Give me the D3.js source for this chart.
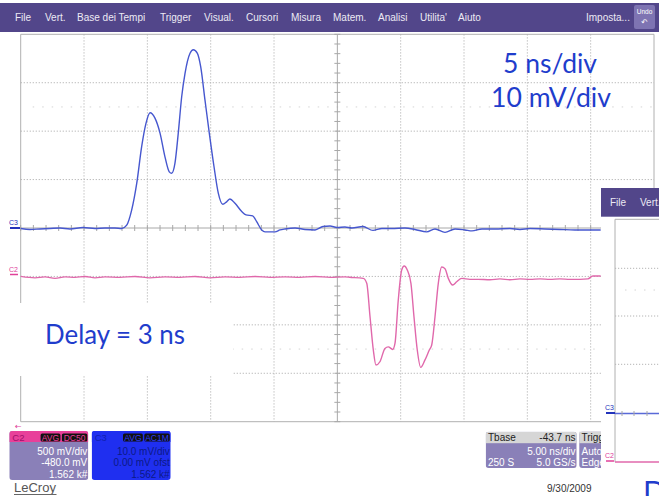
<!DOCTYPE html>
<html>
<head>
<meta charset="utf-8">
<script src="https://cdn.jsdelivr.net/npm/d3@7"></script>
<style>
html, body { margin: 0; padding: 0; background: #fff; }
svg { display: block; }
</style>
</head>
<body>
<script>
// ---- data read off the screen capture ------------------------------
// time in ns from the left edge of the graticule (5 ns/div, 10 div)
const divTimes = [0, 5, 10, 15, 20, 25, 30, 35, 40, 45, 50];
const divLevels = [-4, -3, -2, -1, 0, 1, 2, 3, 4];

// C3 (blue), mV, 10 mV/div
const c3Time = [0, 0.73, 1.52, 2.31, 3.1, 3.89, 4.92, 5.87, 6.65, 7.44, 7.97,
  8.37, 8.76, 9.16, 9.55, 9.89, 10.21, 10.6, 11.0, 11.39, 11.73, 11.92, 12.18,
  12.44, 12.71, 12.97, 13.37, 13.63, 13.94, 14.21, 14.55, 14.89, 15.26, 15.6,
  15.95, 16.26, 16.52, 16.92, 17.45, 17.79, 18.32, 18.63, 19.03, 19.29, 20.08,
  20.47, 20.87, 21.66, 22.45, 23.24, 23.87, 24.42, 24.97, 25.6, 26.15, 27.02,
  27.81, 28.52, 29.3, 30.34, 31.13, 32.05, 32.71, 33.5, 34.29, 35.08, 35.63,
  36.42, 37.45, 38.63, 39.42, 40.21, 41.39, 42.57, 43.76, 44.94, 45.79];
const c3mV = [-0.1, -0.3, -0.2, -0.1, 0.0, -0.2, 0.1, -0.1, 0.0, 0.0, -0.1,
  0.6, 3.7, 9.2, 16.8, 21.6, 23.8, 22.7, 19.6, 14.7, 11.6, 11.3, 13.4,
  19.6, 27.1, 31.9, 36.1, 36.8, 36.1, 33.3, 26.4, 19.6, 12.7, 7.2,
  4.9, 5.4, 6.0, 5.1, 3.4, 2.7, 2.5, 1.3, -0.4, -0.8, -0.8,
  -0.4, -0.2, 0.0, -0.3, -0.4, 0.3, 0.4, 0.1, 0.2, 0.0, 0.3,
  -0.5, -0.1, -0.1, 0.0, -0.3, -0.8, -0.2, -0.9, -0.2, -0.4, -0.6,
  -0.2, -0.2, -0.1, -0.3, -0.1, -0.2, -0.3, -0.4, -0.4, -0.4];

// C2 (pink), mV, 500 mV/div
const c2Time = [0, 1.13, 1.92, 2.71, 3.5, 4.29, 5.08, 5.87, 6.65, 7.84, 9.02,
  10.2, 11.39, 12.58, 13.76, 14.94, 16.13, 17.31, 18.5, 19.68, 20.87, 22.05,
  23.24, 24.42, 25.6, 25.98, 27.05, 27.32, 27.58, 27.84, 28.05, 28.36, 28.76,
  29.02, 29.37, 29.55, 29.81, 30.08, 30.28, 30.52, 30.81, 31.05, 31.31, 31.58,
  31.92, 32.26, 32.45, 32.71, 32.97, 33.24, 33.5, 33.76, 34.1, 34.42, 34.82,
  35.47, 36.1, 37.05, 37.84, 38.63, 39.42, 40.21, 41.0, 41.79, 42.57, 43.37,
  44.15, 44.78, 45.17, 45.79];
const c2mV = [0, -15, -5, -20, -5, -10, 0, -15, -5, -10, 0,
  -15, -5, -10, 0, -15, -5, -10, 0, -10, -5, -10,
  0, -10, -5, -9, -20, -71, -416, -760, -915, -881, -743,
  -727, -754, -692, -244, 66, 107, 66, -71, -416, -760, -939,
  -862, -760, -708, -416, -71, 97, 80, -20, -89, -55, -20,
  -30, -30, -35, -25, -35, -25, -30, -25, -30, -25, -30,
  -30, -25, 5, 5];
const C2_OFFSET = -500;

const menuItems = ["File", "Vert.", "Base dei Tempi", "Trigger", "Visual.", "Cursori",
  "Misura", "Matem.", "Analisi", "Utilita'", "Aiuto"];
const c2Info = ["500 mV/div", "-480.0 mV", "1.562 k#"];
const c3Info = ["10.0 mV/div", "0.00 mV ofst", "1.562 k#"];
const tbaseInfo = ["Tbase", "-43.7 ns", "5.00 ns/div", "250 S", "5.0 GS/s"];
const trigInfo = ["Trigger", "Auto", "Edge"];

// ---- layout ------------------------------------------------------
const WIDTH = 659, HEIGHT = 496;
const menuX = [15, 45, 77, 160, 204, 246, 291, 333, 378, 420, 458];
const G = { left: 20.7, right: 654, top: 34.3, bottom: 421.7 };
const INSET = { x: 601, y: 188 };
const UI_FONT = "'Liberation Sans', Arial, sans-serif";
const SLIDE_FONT = "Lato, 'Open Sans', sans-serif";
const SLIDE_BLUE = "#1f3dcc";

const svg = d3.select("body").append("svg")
  .attr("width", WIDTH).attr("height", HEIGHT)
  .attr("xmlns", "http://www.w3.org/2000/svg");

const x = d3.scaleLinear().domain([0, 50]).range([G.left, G.right]);
const yDiv = d3.scaleLinear().domain([-4, 4]).range([G.bottom, G.top]);
const y3 = d3.scaleLinear().domain([-40, 40]).range([G.bottom, G.top]);
const y2 = d3.scaleLinear().domain([-2000, 2000]).range([G.bottom, G.top]);

// ---- menu bar ----------------------------------------------------
svg.append("rect").attr("x", 0).attr("y", 3).attr("width", WIDTH).attr("height", 29)
  .attr("fill", "#52468a");
svg.append("g").selectAll("text").data(menuItems).join("text")
  .attr("x", (d, i) => menuX[i]).attr("y", 20.5)
  .attr("font-family", UI_FONT).attr("font-size", 10).attr("fill", "#eceaf4")
  .text(d => d);
svg.append("text").attr("x", 586).attr("y", 20.5)
  .attr("font-family", UI_FONT).attr("font-size", 10).attr("fill", "#eceaf4")
  .text("Imposta...");
svg.append("rect").attr("x", 634).attr("y", 5).attr("width", 21).attr("height", 24)
  .attr("rx", 2).attr("fill", "#7e74b2");
svg.append("text").attr("x", 644.5).attr("y", 14).attr("text-anchor", "middle")
  .attr("font-family", UI_FONT).attr("font-size", 6.5).attr("fill", "#fff").text("Undo");
svg.append("text").attr("x", 644.5).attr("y", 25).attr("text-anchor", "middle")
  .attr("font-family", "DejaVu Sans").attr("font-size", 8).attr("fill", "#fff").text("↶");

// ---- graticule ---------------------------------------------------
const grid = svg.append("g");
const rightAt = yy => (yy < INSET.y ? G.right : INSET.x);

grid.selectAll(".vg").data(divTimes.filter(t => t > 0 && t < 50 && t !== 25)).join("line")
  .attr("x1", d => x(d)).attr("x2", d => x(d))
  .attr("y1", G.top).attr("y2", G.bottom)
  .attr("stroke", "#b4b4b4").attr("stroke-dasharray", "1.2,1.8");
grid.selectAll(".hg").data(divLevels.filter(l => l > -4 && l < 4 && l !== 0)).join("line")
  .attr("x1", G.left).attr("x2", d => rightAt(yDiv(d)))
  .attr("y1", d => yDiv(d)).attr("y2", d => yDiv(d))
  .attr("stroke", "#b4b4b4").attr("stroke-dasharray", "1.2,1.8");
// faint half-division dot rows
grid.selectAll(".hd").data([2.5, -2.5]).join("line")
  .attr("x1", G.left + 12).attr("x2", d => rightAt(yDiv(d)))
  .attr("y1", d => yDiv(d)).attr("y2", d => yDiv(d))
  .attr("stroke", "#d4d4d4").attr("stroke-dasharray", "1.5,8");

// frame
grid.append("path")
  .attr("d", `M${INSET.x},${G.bottom}H${G.left}V${G.top}H${G.right}V${INSET.y}`)
  .attr("fill", "none").attr("stroke", "#b0b0b0");

// centre axes with minor ticks
grid.append("line").attr("x1", x(25)).attr("x2", x(25)).attr("y1", G.top).attr("y2", G.bottom)
  .attr("stroke", "#a8a8a8");
grid.append("line").attr("x1", G.left).attr("x2", INSET.x).attr("y1", yDiv(0)).attr("y2", yDiv(0))
  .attr("stroke", "#a8a8a8");
const minorY = d3.range(-4, 4.01, 0.2);
grid.selectAll(".ty").data(minorY).join("line")
  .attr("x1", x(25) - 3).attr("x2", x(25) + 3)
  .attr("y1", d => yDiv(d)).attr("y2", d => yDiv(d))
  .attr("stroke", "#a8a8a8");
const minorX = d3.range(0, 46, 1);
grid.selectAll(".tx").data(minorX).join("line")
  .attr("x1", d => x(d)).attr("x2", d => x(d))
  .attr("y1", yDiv(0) - 3).attr("y2", yDiv(0) + 3)
  .attr("stroke", "#a8a8a8");

// white box pasted behind the "Delay" label
svg.append("rect").attr("x", 0).attr("y", 303).attr("width", 233).attr("height", 73)
  .attr("fill", "#fff");

// ---- traces ------------------------------------------------------
const c3Line = d3.line().curve(d3.curveMonotoneX)
  .x((d, i) => x(c3Time[i])).y(d => y3(d));
const c2Line = d3.line().curve(d3.curveMonotoneX)
  .x((d, i) => x(c2Time[i])).y(d => y2(d + C2_OFFSET));

svg.append("path").attr("d", c2Line(c2mV)).attr("fill", "none")
  .attr("stroke", "#e068ab").attr("stroke-width", 1.4);
svg.append("path").attr("d", c3Line(c3mV)).attr("fill", "none")
  .attr("stroke", "#4657cf").attr("stroke-width", 1.4);

// channel markers
svg.append("text").attr("x", 9).attr("y", 224.5).attr("font-family", UI_FONT)
  .attr("font-size", 7).attr("fill", "#2233bb").text("C3");
svg.append("line").attr("x1", 10).attr("x2", 20).attr("y1", y3(0)).attr("y2", y3(0))
  .attr("stroke", "#2233bb").attr("stroke-width", 2);
svg.append("text").attr("x", 9).attr("y", 271.5).attr("font-family", UI_FONT)
  .attr("font-size", 7).attr("fill", "#e0409a").text("C2");
svg.append("line").attr("x1", 10).attr("x2", 18).attr("y1", 274.5).attr("y2", 274.5)
  .attr("stroke", "#e0409a").attr("stroke-width", 1.5);

// ---- slide annotations -------------------------------------------
svg.append("text").attr("x", 503).attr("y", 72.5).attr("font-family", SLIDE_FONT)
  .attr("font-size", 26).attr("fill", SLIDE_BLUE)
  .attr("textLength", 94).attr("lengthAdjust", "spacingAndGlyphs").text("5 ns/div");
svg.append("text").attr("x", 491).attr("y", 106.5).attr("font-family", SLIDE_FONT)
  .attr("font-size", 26).attr("fill", SLIDE_BLUE)
  .attr("textLength", 120).attr("lengthAdjust", "spacingAndGlyphs").text("10 mV/div");
svg.append("text").attr("x", 45).attr("y", 344).attr("font-family", SLIDE_FONT)
  .attr("font-size", 27).attr("fill", SLIDE_BLUE)
  .attr("textLength", 140).attr("lengthAdjust", "spacingAndGlyphs").text("Delay = 3 ns");

// ---- bottom status boxes -----------------------------------------
svg.append("text").attr("x", 15).attr("y", 429).attr("font-family", "DejaVu Sans")
  .attr("font-size", 8).attr("fill", "#e0409a").text("←");

function chanBox(x0, w, headFill, bodyFill, label, labelFill, badges, badgeFill, rows, rowFill, id) {
  const g = svg.append("g");
  g.append("clipPath").attr("id", id).append("rect")
    .attr("x", x0).attr("y", 431).attr("width", w).attr("height", 49).attr("rx", 3);
  const inner = g.append("g").attr("clip-path", `url(#${id})`);
  inner.append("rect").attr("x", x0).attr("y", 431).attr("width", w).attr("height", 49).attr("fill", bodyFill);
  inner.append("rect").attr("x", x0).attr("y", 431).attr("width", w).attr("height", 11).attr("fill", headFill);
  inner.append("text").attr("x", x0 + 3).attr("y", 440.5).attr("font-family", UI_FONT)
    .attr("font-size", 9.5).attr("fill", labelFill).text(label);
  let bx = x0 + w - 1;
  badges.slice().reverse().forEach(b => {
    const bw = b.length * 5.6 + 3;
    bx -= bw;
    inner.append("rect").attr("x", bx).attr("y", 433.5).attr("width", bw).attr("height", 8)
      .attr("rx", 1.5).attr("fill", "#111");
    inner.append("text").attr("x", bx + bw / 2).attr("y", 440.6).attr("text-anchor", "middle")
      .attr("font-family", UI_FONT).attr("font-size", 8.5).attr("fill", badgeFill).text(b);
    bx -= 1.5;
  });
  inner.selectAll(".row").data(rows).join("text")
    .attr("x", x0 + w - 1).attr("y", (d, i) => 454.5 + i * 11.8).attr("text-anchor", "end")
    .attr("font-family", UI_FONT).attr("font-size", 10).attr("fill", rowFill).text(d => d);
}
chanBox(9.3, 79, "#e8409a", "#8a80b8", "C2", "#a0106a", ["AVG", "DC50"], "#e8409a", c2Info, "#fff", "clipC2");
chanBox(91.7, 79, "#1f2ff0", "#1f2ff0", "C3", "#1020b0", ["AVG", "AC1M"], "#2a3cf5", c3Info, "#0c1a86", "clipC3");

// Tbase box
const tb = svg.append("g");
tb.append("clipPath").attr("id", "clipTb").append("rect")
  .attr("x", 485.7).attr("y", 431.7).attr("width", 91).attr("height", 36.3).attr("rx", 3);
const tbi = tb.append("g").attr("clip-path", "url(#clipTb)");
tbi.append("rect").attr("x", 485.7).attr("y", 431.7).attr("width", 91).attr("height", 36.3).attr("fill", "#8a80b8");
tbi.append("rect").attr("x", 485.7).attr("y", 431.7).attr("width", 91).attr("height", 11.5).attr("fill", "#d6d6d6");
const tbText = (t, xx, yy, anchor, fill) => tbi.append("text").attr("x", xx).attr("y", yy)
  .attr("text-anchor", anchor).attr("font-family", UI_FONT).attr("font-size", 10).attr("fill", fill).text(t);
tbText(tbaseInfo[0], 488, 441.3, "start", "#222");
tbText(tbaseInfo[1], 575.5, 441.3, "end", "#222");
tbText(tbaseInfo[2], 575.5, 455, "end", "#fff");
tbText(tbaseInfo[3], 488, 466, "start", "#fff");
tbText(tbaseInfo[4], 575.5, 466, "end", "#fff");

// trigger box (partly hidden by pasted picture)
svg.append("rect").attr("x", 579.3).attr("y", 431.7).attr("width", 40).attr("height", 36.3)
  .attr("rx", 3).attr("fill", "#8a80b8");
svg.append("rect").attr("x", 579.3).attr("y", 431.7).attr("width", 40).attr("height", 11.5)
  .attr("fill", "#d6d6d6");
svg.append("text").attr("x", 581.5).attr("y", 441.3).attr("font-family", UI_FONT)
  .attr("font-size", 10).attr("fill", "#222").text(trigInfo[0]);
svg.append("text").attr("x", 581.5).attr("y", 455).attr("font-family", UI_FONT)
  .attr("font-size", 10).attr("fill", "#fff").text(trigInfo[1]);
svg.append("text").attr("x", 581.5).attr("y", 466).attr("font-family", UI_FONT)
  .attr("font-size", 10).attr("fill", "#fff").text(trigInfo[2]);

// logo and date
svg.append("text").attr("x", 14).attr("y", 492).attr("font-family", UI_FONT)
  .attr("font-size", 13).attr("fill", "#555").text("LeCroy");
svg.append("line").attr("x1", 14).attr("x2", 56.5).attr("y1", 494.5).attr("y2", 494.5)
  .attr("stroke", "#666").attr("stroke-width", 1);
svg.append("text").attr("x", 547).attr("y", 492).attr("font-family", UI_FONT)
  .attr("font-size", 10).attr("fill", "#333").text("9/30/2009");

// ---- pasted second screen capture (right edge) -------------------
const ins = svg.append("g");
ins.append("rect").attr("x", INSET.x).attr("y", INSET.y).attr("width", WIDTH - INSET.x)
  .attr("height", 282).attr("fill", "#fff");
ins.append("rect").attr("x", INSET.x).attr("y", INSET.y).attr("width", WIDTH - INSET.x)
  .attr("height", 28.7).attr("fill", "#52468a");
ins.append("text").attr("x", 610).attr("y", 206).attr("font-family", UI_FONT)
  .attr("font-size", 10).attr("fill", "#eceaf4").text("File");
ins.append("text").attr("x", 640).attr("y", 206).attr("font-family", UI_FONT)
  .attr("font-size", 10).attr("fill", "#eceaf4").text("Vert.");
ins.append("path").attr("d", `M${WIDTH},219.3H615V462`).attr("fill", "none").attr("stroke", "#b0b0b0");
ins.selectAll(".ig").data([268.3, 316, 364.3]).join("line")
  .attr("x1", 615).attr("x2", WIDTH).attr("y1", d => d).attr("y2", d => d)
  .attr("stroke", "#b4b4b4").attr("stroke-dasharray", "1.2,1.8");
ins.append("line").attr("x1", 625).attr("x2", WIDTH).attr("y1", 290).attr("y2", 290)
  .attr("stroke", "#d4d4d4").attr("stroke-dasharray", "1.5,8");
ins.append("line").attr("x1", 615).attr("x2", WIDTH).attr("y1", 413.5).attr("y2", 413.5)
  .attr("stroke", "#5a6ad8").attr("stroke-width", 1.3);
ins.selectAll(".it").data([622, 634, 647]).join("line")
  .attr("x1", d => d).attr("x2", d => d).attr("y1", 411).attr("y2", 416)
  .attr("stroke", "#a8a8a8");
ins.append("line").attr("x1", 615).attr("x2", WIDTH).attr("y1", 462).attr("y2", 462)
  .attr("stroke", "#e068ab").attr("stroke-width", 1.3);
ins.append("text").attr("x", 605).attr("y", 409.5).attr("font-family", UI_FONT)
  .attr("font-size", 7).attr("fill", "#2233bb").text("C3");
ins.append("line").attr("x1", 606).attr("x2", 615).attr("y1", 413).attr("y2", 413)
  .attr("stroke", "#2233bb").attr("stroke-width", 2);
ins.append("text").attr("x", 605).attr("y", 457.5).attr("font-family", UI_FONT)
  .attr("font-size", 7).attr("fill", "#e0409a").text("C2");
ins.append("line").attr("x1", 606).attr("x2", 614).attr("y1", 461).attr("y2", 461)
  .attr("stroke", "#e0409a").attr("stroke-width", 1.5);

// cropped letter of the next slide title
svg.append("text").attr("x", 643).attr("y", 503).attr("font-family", SLIDE_FONT)
  .attr("font-size", 30).attr("fill", SLIDE_BLUE).text("D");
</script>
</body>
</html>
